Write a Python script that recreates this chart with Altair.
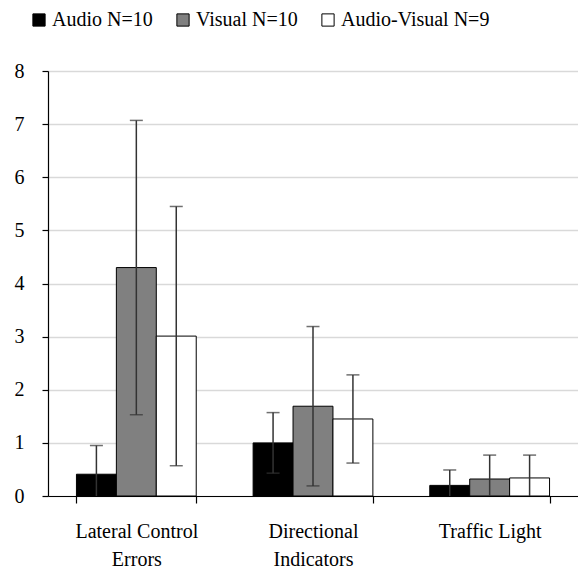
import altair as alt
import pandas as pd

categories = ["Lateral Control Errors", "Directional Indicators", "Traffic Light"]
cat_lines = {"Lateral Control Errors": ["Lateral Control", "Errors"],
             "Directional Indicators": ["Directional", "Indicators"],
             "Traffic Light": ["Traffic Light"]}
series = ["Audio N=10", "Visual N=10", "Audio-Visual N=9"]
colors = ["#000000", "#808080", "#ffffff"]
means = {
    "Audio N=10": [0.41, 1.0, 0.2],
    "Visual N=10": [4.3, 1.69, 0.32],
    "Audio-Visual N=9": [3.01, 1.45, 0.34],
}
errors = {
    "Audio N=10": [0.54, 0.57, 0.29],
    "Visual N=10": [2.77, 1.5, 0.45],
    "Audio-Visual N=9": [2.44, 0.83, 0.43],
}

rows = []
for s in series:
    for i, c in enumerate(categories):
        m = means[s][i]
        e = errors[s][i]
        rows.append({"category": c, "series": s, "mean": m,
                     "lo": max(0.0, m - e), "hi": m + e})
df = pd.DataFrame(rows)

FONT = "Liberation Serif"

label_expr = " : ".join(
    [f"datum.label == '{c}' ? {cat_lines[c]}" for c in categories]) + " : datum.label"

x = alt.X("category:N", sort=categories, title=None,
          scale=alt.Scale(paddingInner=0.322, paddingOuter=0.161),
          axis=alt.Axis(labelExpr=label_expr, labelAngle=0, labelFont=FONT,
                        labelFontSize=20, labelLineHeight=28,
                        labelPadding=18, tickBand="extent", tickSize=7,
                        tickColor="black", domainColor="black", grid=False))
xo = alt.XOffset("series:N", sort=series, scale=alt.Scale(paddingInner=0, paddingOuter=0))

bars = alt.Chart(df).mark_bar(stroke="black", strokeWidth=1).encode(
    x=x, xOffset=xo,
    y=alt.Y("mean:Q", title=None,
            scale=alt.Scale(domain=[0, 8], nice=False),
            axis=alt.Axis(values=list(range(9)), labelFont=FONT, labelFontSize=20,
                          tickSize=6, tickColor="black",
                          domainColor="black", gridColor="#d9d9d9", gridWidth=1.5,
                          labelPadding=18)),
    fill=alt.Fill("series:N", sort=series,
                  scale=alt.Scale(domain=series, range=colors),
                  legend=alt.Legend(title=None, orient="none", legendX=-19, legendY=-61,
                                    direction="horizontal", labelFont=FONT,
                                    labelFontSize=20,
                                    symbolType="square", symbolSize=150,
                                    symbolStrokeColor="black", symbolStrokeWidth=1,
                                    columnPadding=20, labelOffset=3)),
)

stems = alt.Chart(df).mark_rule(color="#333333", strokeWidth=1.5).encode(
    x=alt.X("category:N", sort=categories), xOffset=xo,
    y="lo:Q", y2="hi:Q")
caps_hi = alt.Chart(df).mark_tick(color="#333333", thickness=1.5, size=13).encode(
    x=alt.X("category:N", sort=categories), xOffset=xo, y="hi:Q")
caps_lo = alt.Chart(df).transform_filter("datum.lo > 0").mark_tick(
    color="#333333", thickness=1.5, size=13).encode(
    x=alt.X("category:N", sort=categories), xOffset=xo, y="lo:Q")

chart = alt.layer(bars, stems, caps_hi, caps_lo).properties(
    width=530, height=425,
    padding={"left": 6, "top": 2, "right": 0, "bottom": 0},
).configure(font=FONT).configure_axis(
    domainWidth=1.2, tickWidth=1.2, labelFont=FONT
).configure_legend(labelFont=FONT)

chart.save("out.html", embed_options={"renderer": "svg", "actions": False})
